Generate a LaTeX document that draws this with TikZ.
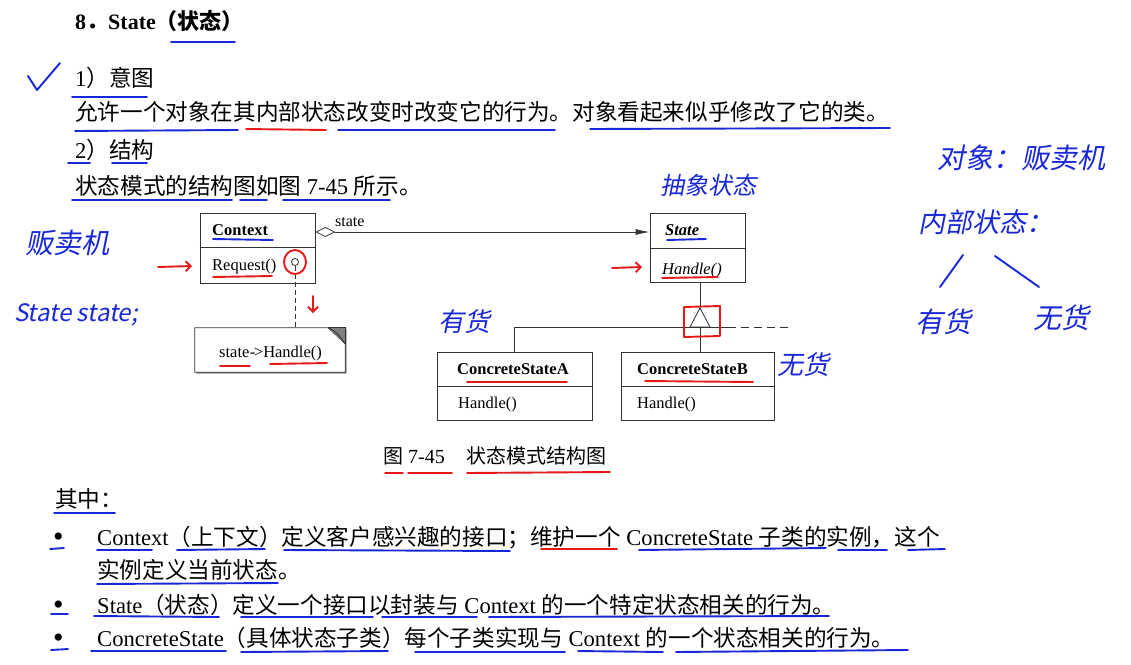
\documentclass[tikz,border=0pt]{standalone}
\usepackage{fontspec}
\setmainfont{Liberation Serif}
\newfontfamily\cjk{Noto Sans CJK SC}
\newfontfamily\hwf[FakeSlant=0.2]{Noto Sans CJK SC}
\usetikzlibrary{arrows.meta,calc}
\newcommand\zh[1]{{\cjk #1}}
\definecolor{pen}{RGB}{25,40,215}
\definecolor{rpen}{RGB}{230,25,25}
\tikzset{
  body/.style={anchor=base west, inner sep=0pt, font=\fontsize{22.6}{27}\selectfont},
  bul/.style={anchor=base west, inner sep=0pt, font=\fontsize{30}{30}\selectfont},
  captxt/.style={anchor=base west, inner sep=0pt, font=\fontsize{20}{24}\selectfont},
  dtext/.style={anchor=base west, inner sep=0pt, font=\fontsize{16.5}{20}\selectfont},
  cls/.style={draw=black!80, line width=0.8pt, inner sep=0pt},
  thin/.style={draw=black!80, line width=0.8pt},
  bl/.style={pen, line width=1.9pt, line cap=round, line join=round},
  rl/.style={rpen, line width=1.9pt, line cap=round, line join=round},
  hand/.style={pen, inner sep=0pt, font=\hwf\fontsize{26}{28}\selectfont},
}
\begin{document}
\begin{tikzpicture}[x=1pt,y=-1pt]
\fill[white] (0,0) rectangle (1131,664);
\useasboundingbox (0,0) rectangle (1131,664);

% ---------- top text ----------
\node[body, font=\bfseries\fontsize{22}{26}\selectfont] (title) at (75,29) {8\zh{．}State\zh{（状态）}};
\node[body] (h1) at (75,86) {1\zh{）意图}};
\node[body] (p1) at (75,120) {\zh{允许一个对象在其内部状态改变时改变它的行为。对象看起来似乎修改了它的类。}};
\node[body] (h2) at (75,158) {2\zh{）结构}};
\node[body] (p2) at (75,194) {\zh{状态模式的结构图如图} 7-45 \zh{所示。}};

% underlines top
\draw[bl] (171,42) -- (235,42);
\draw[bl] (72,97) -- (147,97);
\draw[bl] (75,131) -- (238,130);
\draw[rl] (246,129) -- (326,130);
\draw[bl] (338,130) -- (555,130);
\draw[bl] (590,129) -- (890,128);
\draw[bl] (68,163) -- (90,163);
\draw[bl] (112,163) -- (147,163);
\draw[bl] (72,200) -- (232,200);
\draw[bl] (240,200) -- (267,200);
\draw[bl] (283,200) -- (390,200);
\draw[bl] (28,76) -- (37,90) -- (60,63);

% ---------- diagram ----------
\node[cls, minimum width=115pt, minimum height=70pt] (ctx) at (257.5,248) {};
\draw[thin] (ctx.west |- 0,247) -- (ctx.east |- 0,247);
\node[dtext, font=\bfseries\fontsize{16.5}{20}\selectfont] (ctxname) at (212,235) {Context};
\node[dtext] (req) at (212,270) {Request()};
\node[circle, draw=black!80, line width=0.8pt, minimum size=7pt, inner sep=0pt] (rc) at (295,262) {};

\node[cls, minimum width=95pt, minimum height=69pt] (st) at (697.5,247.5) {};
\draw[thin] (st.west |- 0,248) -- (st.east |- 0,248);
\node[dtext, font=\bfseries\itshape\fontsize{16.5}{20}\selectfont] (stname) at (665,235) {State};
\node[dtext, font=\itshape\fontsize{16.5}{20}\selectfont] (sth) at (662,274) {Handle()};

\coordinate (aggy) at (0,232);
\draw[thin, {Diamond[open,length=20pt,width=10pt]}-{Latex[length=14pt,width=6pt]}] (ctx.east |- aggy) -- (st.west |- aggy);
\node[dtext, font=\fontsize{16}{20}\selectfont] (lab) at (335,226) {state};

% note
\node[minimum width=150pt, minimum height=44pt, inner sep=0pt] (note) at (270,350) {};
\fill[black!45] ($(note.north east)+(1.5,1.5)$) -- ($(note.south east)+(1.5,1.5)$) -- ($(note.south west)+(1.5,1.5)$) -- ($(note.south west)+(1.5,0)$) -- ($(note.south east)+(0,0)$) -- ($(note.north east)+(0,0)$) -- cycle;
\draw[thin, fill=white] (note.north west) -- ($(note.north east)+(-17,0)$) -- ($(note.north east)+(0,16)$) -- (note.south east) -- (note.south west) -- cycle;
\fill[black!50] ($(note.north east)+(-17,0)$) -- (note.north east) -- ($(note.north east)+(0,16)$) -- cycle;
\draw[thin] ($(note.north east)+(-17,0)$) -- (note.north east) -- ($(note.north east)+(0,16)$);
\draw[thin] ($(note.north east)+(-17,0)$) .. controls ($(note.north east)+(-8,4)$) and ($(note.north east)+(-4,10)$) .. ($(note.north east)+(0,16)$);
\node[dtext] (notetxt) at (219,357) {state\kern0.5pt-\kern-1.5pt>Handle()};
\draw[thin, dashed, dash pattern=on 5pt off 3pt] (rc.south) -- (rc |- note.north);

% concrete states
\node[cls, minimum width=155pt, minimum height=68pt] (csa) at (514.5,386) {};
\draw[thin] (csa.west |- 0,386) -- (csa.east |- 0,386);
\node[dtext, font=\bfseries\fontsize{16.5}{20}\selectfont] (csaname) at (457,374) {ConcreteStateA};
\node[dtext] (csah) at (458,408) {Handle()};

\node[cls, minimum width=153pt, minimum height=68pt] (csb) at (697.5,386) {};
\draw[thin] (csb.west |- 0,386) -- (csb.east |- 0,386);
\node[dtext, font=\bfseries\fontsize{16.5}{20}\selectfont] (csbname) at (637,374) {ConcreteStateB};
\node[dtext] (csbh) at (637,408) {Handle()};

% inheritance
\coordinate (tritop) at (700,308);
\coordinate (tribase) at (700,327);
\coordinate (jr) at (728,327);
\coordinate (je) at (792,327);
\draw[thin] (tritop |- st.south) -- (tritop);
\draw[thin, fill=white] (tritop) -- ++(-10,19) -- ++(20,0) -- cycle;
\draw[thin] (csa.north |- tribase) -- (csa.north);
\draw[thin] (csa.north |- tribase) -- (jr);
\draw[thin, dashed, dash pattern=on 8pt off 5pt] (jr) -- (je);
\draw[thin] (tribase) -- (tribase |- csb.north);

% caption
\node[captxt] (cap) at (383,463) {\zh{图}\hspace{5pt}7-45\hspace{22pt}\zh{状态模式结构图}};
\draw[rl] (385,473) -- (403,473);
\draw[rl] (408,473) -- (452,473);
\draw[rl] (467,473) -- (610,472);

% red annotations in diagram
\draw[rl, -{Straight Barb[length=5pt,width=10pt]}] (158,267) -- (192,266);
\draw[rl] (295,262) ellipse (11pt and 12pt);
\draw[rl] (213,277) -- (272,276);
\draw[rl, -{Straight Barb[length=5pt,width=10pt]}] (313,296) -- (313,313);
\draw[rl] (220,366) -- (250,366);
\draw[rl] (270,364) -- (327,363);
\draw[rl, -{Straight Barb[length=5pt,width=10pt]}] (612,268) -- (642,267);
\draw[rl] (662,278) -- (718,277);
\draw[rl] (684,307) -- (720,306) -- (720,336) -- (684,337) -- cycle;
\draw[rl] (467,382) -- (567,382);
\draw[rl] (645,381) -- (753,382);
\draw[bl] (213,239) -- (273,240);
\draw[bl] (667,240) -- (706,239);

% handwriting
\node[hand, font=\hwf\fontsize{24}{26}\selectfont] (hw1) at (708,185) {抽象状态};
\node[hand] (hw2) at (464,322) {有货};
\node[hand] (hw3) at (803,365) {无货};
\node[hand, font=\hwf\fontsize{28}{30}\selectfont] (hw4) at (67,243) {贩卖机};
\node[hand, font=\hwf\fontsize{24}{26}\selectfont] (hw5) at (76,315) {State state;};
\node[hand, font=\hwf\fontsize{28}{30}\selectfont] (hw6) at (1021,158) {对象：贩卖机};
\node[hand, font=\hwf\fontsize{27}{30}\selectfont] (hw7) at (986,222) {内部状态：};
\node[hand, font=\hwf\fontsize{28}{30}\selectfont] (hw8) at (943,322) {有货};
\node[hand, font=\hwf\fontsize{28}{30}\selectfont] (hw9) at (1061,318) {无货};
\draw[bl] (963,255) -- (940,287);
\draw[bl] (995,256) -- (1039,287);

% ---------- bottom text ----------
\node[body] (qz) at (55,507) {\zh{其中：}};
\draw[bl] (54,513) -- (115,513);
\node[bul] (b1) at (53,546) {\textbullet};
\node[bul] (b3) at (53,614) {\textbullet};
\node[bul] (b4) at (53,647) {\textbullet};
\node[body] (t1) at (97,545) {Context\zh{（上下文）定义客户感兴趣的接口；维护一个} ConcreteState \zh{子类的实例，这个}};
\node[body] (t2) at (97,578) {\zh{实例定义当前状态。}};
\node[body] (t3) at (97,613) {State\zh{（状态）定义一个接口以封装与} Context \zh{的一个特定状态相关的行为。}};
\node[body] (t4) at (97,646) {ConcreteState\zh{（具体状态子类）每个子类实现与} Context \zh{的一个状态相关的行为。}};

% bottom underlines
\draw[bl] (50,549) -- (64,548);
\draw[bl] (97,550) -- (152,550);
\draw[bl] (177,550) -- (265,549);
\draw[bl] (284,550) -- (510,551);
\draw[rl] (541,549) -- (617,549);
\draw[bl] (639,550) -- (826,548);
\draw[bl] (838,550) -- (887,550);
\draw[bl] (908,550) -- (945,549);
\draw[bl] (97,584) -- (278,583);
\draw[bl] (51,614) -- (68,614);
\draw[bl] (94,616) -- (219,617);
\draw[bl] (241,617) -- (373,617);
\draw[bl] (382,617) -- (477,617);
\draw[bl] (489,617) -- (829,616);
\draw[bl] (51,650) -- (68,649);
\draw[bl] (91,651) -- (226,651);
\draw[bl] (241,652) -- (388,651);
\draw[bl] (415,652) -- (565,652);
\draw[bl] (578,651) -- (663,652);
\draw[bl] (676,652) -- (908,650);
\end{tikzpicture}
\end{document}
